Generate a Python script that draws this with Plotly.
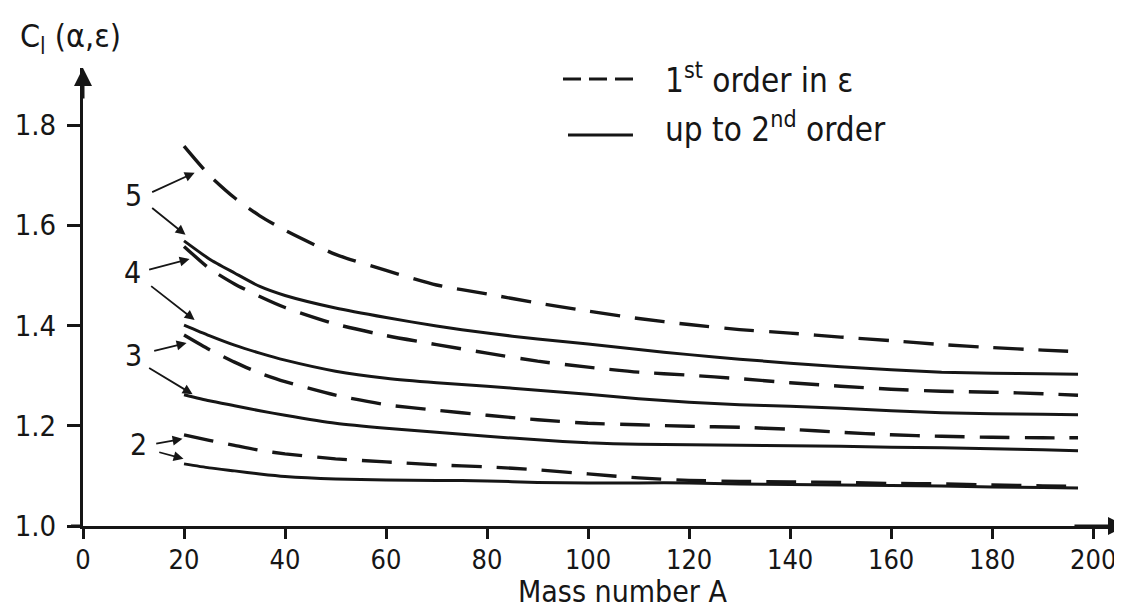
import plotly.graph_objects as go

# ---------------- data ----------------
mass_A = [20, 25, 30, 35, 40, 50, 60, 70, 80, 90, 100, 110, 120, 130, 140, 150, 160, 170, 180, 190, 197]

first_order_5 = [1.758, 1.700, 1.655, 1.619, 1.590, 1.542, 1.510, 1.481, 1.463, 1.445, 1.429, 1.414, 1.402,
                 1.392, 1.385, 1.377, 1.370, 1.362, 1.356, 1.351, 1.348]
second_order_5 = [1.569, 1.533, 1.505, 1.478, 1.460, 1.435, 1.416, 1.399, 1.385, 1.373, 1.363, 1.352, 1.342,
                  1.333, 1.325, 1.318, 1.312, 1.307, 1.305, 1.304, 1.303]
first_order_4 = [1.558, 1.514, 1.483, 1.458, 1.436, 1.403, 1.380, 1.362, 1.345, 1.329, 1.317, 1.307, 1.301,
                 1.294, 1.286, 1.279, 1.273, 1.269, 1.267, 1.264, 1.261]
second_order_4 = [1.401, 1.380, 1.361, 1.345, 1.331, 1.309, 1.295, 1.286, 1.279, 1.271, 1.263, 1.254, 1.247,
                  1.242, 1.239, 1.235, 1.230, 1.226, 1.224, 1.223, 1.222]
first_order_3 = [1.381, 1.352, 1.327, 1.305, 1.288, 1.261, 1.242, 1.231, 1.221, 1.212, 1.205, 1.202, 1.199,
                 1.197, 1.193, 1.187, 1.182, 1.179, 1.177, 1.176, 1.176]
second_order_3 = [1.262, 1.250, 1.240, 1.230, 1.221, 1.205, 1.195, 1.187, 1.179, 1.172, 1.166, 1.163, 1.162,
                  1.161, 1.160, 1.159, 1.157, 1.156, 1.154, 1.152, 1.150]
first_order_2 = [1.182, 1.171, 1.161, 1.151, 1.144, 1.134, 1.128, 1.122, 1.118, 1.112, 1.104, 1.096, 1.091,
                 1.089, 1.088, 1.087, 1.085, 1.084, 1.082, 1.080, 1.079]
second_order_2 = [1.124, 1.116, 1.110, 1.104, 1.099, 1.094, 1.092, 1.091, 1.090, 1.087, 1.086, 1.086, 1.086,
                  1.084, 1.083, 1.082, 1.081, 1.080, 1.078, 1.077, 1.076]

x_ticks = [0, 20, 40, 60, 80, 100, 120, 140, 160, 180, 200]
y_ticks = [1.0, 1.2, 1.4, 1.6, 1.8]

curve_labels = ["5", "4", "3", "2"]
label_A = [10.0, 9.8, 10.0, 11.0]
label_C = [1.659, 1.505, 1.341, 1.162]
# arrows: (tail A, tail C) -> (head A, head C)
arrow_tail_A = [13.4, 13.4, 12.8, 13.2, 13.8, 12.8, 14.2, 14.8]
arrow_tail_C = [1.665, 1.637, 1.511, 1.481, 1.349, 1.317, 1.164, 1.148]
arrow_head_A = [22.1, 20.3, 21.1, 22.1, 20.5, 21.7, 19.7, 19.9]
arrow_head_C = [1.705, 1.581, 1.533, 1.411, 1.365, 1.263, 1.174, 1.134]

INK = "#161616"
FONT = "DejaVu Sans Condensed, Liberation Sans Narrow, Liberation Sans, sans-serif"

fig = go.Figure()

dashed_sets = [first_order_5, first_order_4, first_order_3, first_order_2]
solid_sets = [second_order_5, second_order_4, second_order_3, second_order_2]
for ys in dashed_sets:
    fig.add_trace(go.Scatter(x=mass_A, y=ys, mode="lines",
                             line=dict(color=INK, width=3.4, dash="30px,15px", shape="spline", smoothing=0.6),
                             showlegend=False, hoverinfo="skip"))
for ys in solid_sets:
    fig.add_trace(go.Scatter(x=mass_A, y=ys, mode="lines",
                             line=dict(color=INK, width=3.0, shape="spline", smoothing=0.6),
                             showlegend=False, hoverinfo="skip"))

annotations = []
for t, ax_, ay_ in zip(curve_labels, label_A, label_C):
    annotations.append(dict(x=ax_, y=ay_, xref="x", yref="y", text=t, showarrow=False,
                            font=dict(size=30, color=INK, family=FONT)))
for ta, tc, ha, hc in zip(arrow_tail_A, arrow_tail_C, arrow_head_A, arrow_head_C):
    annotations.append(dict(x=ha, y=hc, ax=ta, ay=tc, xref="x", yref="y", axref="x", ayref="y",
                            text="", showarrow=True, arrowhead=2, arrowsize=1.1, arrowwidth=1.8,
                            arrowcolor=INK, standoff=0, startstandoff=0))
# axis arrowheads
annotations.append(dict(x=206.5, y=1.0, ax=196, ay=1.0, xref="x", yref="y", axref="x", ayref="y", text="",
                        showarrow=True, arrowhead=2, arrowsize=1.2, arrowwidth=3, arrowcolor=INK, standoff=0))
annotations.append(dict(x=0, y=1.914, ax=0, ay=1.85, xref="x", yref="y", axref="x", ayref="y", text="",
                        showarrow=True, arrowhead=2, arrowsize=1.2, arrowwidth=3, arrowcolor=INK, standoff=0))
# titles
annotations.append(dict(x=-0.0623, y=1.0655, xref="paper", yref="paper", xanchor="left", yanchor="middle",
                        text="C<sub>l</sub> (α,ε)", showarrow=False, font=dict(size=32, color=INK, family=FONT)))
annotations.append(dict(x=0.5177, y=-0.142, xref="paper", yref="paper", xanchor="center", yanchor="middle",
                        text="Mass number A", showarrow=False, font=dict(size=30, color=INK, family=FONT)))
# legend texts
annotations.append(dict(x=0.556, y=0.978, xref="paper", yref="paper", xanchor="left", yanchor="middle",
                        text="1<sup>st</sup> order in ε", showarrow=False, font=dict(size=33, color=INK, family=FONT)))
annotations.append(dict(x=0.556, y=0.869, xref="paper", yref="paper", xanchor="left", yanchor="middle",
                        text="up to 2<sup>nd</sup> order", showarrow=False, font=dict(size=33, color=INK, family=FONT)))

shapes = [
    dict(type="line", xref="paper", yref="paper", x0=0.4602, x1=0.5302, y0=0.976, y1=0.976,
         line=dict(color=INK, width=3, dash="18px,8px")),
    dict(type="line", xref="paper", yref="paper", x0=0.465, x1=0.5273, y0=0.8537, y1=0.8537,
         line=dict(color=INK, width=3)),
    dict(type="line", xref="paper", yref="paper", x0=-0.0115, x1=0.0, y0=0, y1=0,
         line=dict(color=INK, width=3)),
]

fig.update_layout(
    width=1122, height=608,
    margin=dict(l=75, r=4, t=60, b=90),
    paper_bgcolor="white", plot_bgcolor="white",
    showlegend=False,
    annotations=annotations, shapes=shapes,
    font=dict(family=FONT, color=INK),
)
fig.update_xaxes(range=[0, 206.5], tickvals=x_ticks, ticks="outside", ticklen=10, tickwidth=2.5, tickcolor=INK,
                 showline=True, linewidth=3, linecolor=INK, showgrid=False, zeroline=False, automargin=False,
                 tickfont=dict(size=27, family=FONT, color=INK), ticklabelstandoff=-2)
fig.update_yaxes(range=[1.0, 1.914], tickvals=y_ticks, tickformat=".1f", ticks="outside", ticklen=13, tickwidth=2.5,
                 tickcolor=INK, showline=True, linewidth=3, linecolor=INK, showgrid=False, zeroline=False,
                 automargin=False, tickfont=dict(size=29, family=FONT, color=INK), ticklabelstandoff=5)

fig.write_html("out.html")
